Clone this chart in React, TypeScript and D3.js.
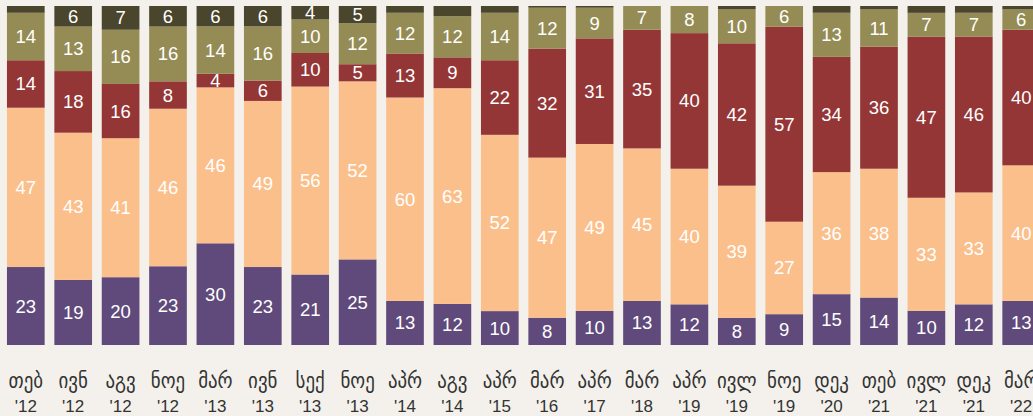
import React, { useEffect, useRef } from 'react';
import * as d3 from 'd3';

// survey waves
const months = ['თებ', 'ივნ', 'აგვ', 'ნოე', 'მარ', 'ივნ', 'სექ', 'ნოე', 'აპრ', 'აგვ', 'აპრ', 'მარ', 'აპრ', 'მარ', 'აპრ', 'ივლ', 'ნოე', 'დეკ', 'თებ', 'ივლ', 'დეკ', 'მარ'];
const years = ["'12", "'12", "'12", "'12", "'13", "'13", "'13", "'13", "'14", "'14", "'15", "'16", "'17", "'18", "'19", "'19", "'19", "'20", "'21", "'21", "'21", "'22"];

// series values, bottom to top
const purple = [23, 19, 20, 23, 30, 23, 21, 25, 13, 12, 10, 8, 10, 13, 12, 8, 9, 15, 14, 10, 12, 13];
const peach = [47, 43, 41, 46, 46, 49, 56, 52, 60, 63, 52, 47, 49, 45, 40, 39, 27, 36, 38, 33, 33, 40];
const red = [14, 18, 16, 8, 4, 6, 10, 5, 13, 9, 22, 32, 31, 35, 40, 42, 57, 34, 36, 47, 46, 40];
const olive = [14, 13, 16, 16, 14, 16, 10, 12, 12, 12, 14, 12, 9, 7, 8, 10, 6, 13, 11, 7, 7, 6];
const dark = [2, 6, 7, 6, 6, 6, 4, 5, 2, 3, 2, 0.5, 0.5, 0, 0, 1, 0, 2, 1, 2, 2, 1];

const keys = ['purple', 'peach', 'red', 'olive', 'dark'];
const colors = ['#5f4a7b', '#fbbf8c', '#943636', '#958c55', '#4a452d'];

export default function App() {
    const ref = useRef(null);

    useEffect(() => {
        const width = 1033;
        const height = 416;
        const top = 6;
        const bottom = 345;

        const rows = months.map((m, i) => ({
            id: i,
            purple: purple[i],
            peach: peach[i],
            red: red[i],
            olive: olive[i],
            dark: dark[i],
        }));

        const svg = d3.select(ref.current);
        svg.selectAll('*').remove();
        svg.attr('width', width).attr('height', height);

        svg.append('rect')
            .attr('width', width)
            .attr('height', height)
            .attr('fill', '#f4f1ec');

        const x = d3.scaleBand()
            .domain(rows.map(d => String(d.id)))
            .range([2.1, 2.1 + 22 * 47.4])
            .paddingInner(0.205)
            .paddingOuter(0.1025);

        const y = d3.scaleLinear().domain([0, 1]).range([bottom, top]);

        const series = d3.stack()
            .keys(keys)
            .offset(d3.stackOffsetExpand)(rows);

        const layer = svg.selectAll('g.layer')
            .data(series)
            .enter()
            .append('g')
            .attr('class', 'layer')
            .attr('fill', (d, i) => colors[i]);

        layer.selectAll('rect')
            .data(d => d)
            .enter()
            .append('rect')
            .attr('x', d => x(String(d.data.id)))
            .attr('y', d => y(d[1]))
            .attr('width', x.bandwidth())
            .attr('height', d => Math.max(0, y(d[0]) - y(d[1])));

        // value labels inside segments
        series.forEach(s => {
            svg.append('g')
                .selectAll('text')
                .data(s.filter(d => d.data[s.key] >= 4))
                .enter()
                .append('text')
                .attr('x', d => x(String(d.data.id)) + x.bandwidth() / 2)
                .attr('y', d => (y(d[0]) + y(d[1])) / 2)
                .attr('text-anchor', 'middle')
                .attr('dominant-baseline', 'central')
                .style('font-family', 'Liberation Sans, Arial, sans-serif')
                .style('font-size', '18.5px')
                .style('fill', '#ffffff')
                .text(d => d.data[s.key]);
        });

        // category labels
        const lab = svg.append('g')
            .selectAll('text')
            .data(rows)
            .enter()
            .append('text')
            .attr('text-anchor', 'middle')
            .style('fill', '#333333');

        lab.append('tspan')
            .attr('x', d => x(String(d.id)) + x.bandwidth() / 2)
            .attr('y', 388)
            .style('font-family', 'DejaVu Sans Condensed, DejaVu Sans, sans-serif')
            .style('font-size', '21px')
            .text(d => months[d.id]);

        lab.append('tspan')
            .attr('x', d => x(String(d.id)) + x.bandwidth() / 2)
            .attr('y', 412)
            .style('font-family', 'Liberation Sans, Arial, sans-serif')
            .style('font-size', '17px')
            .text(d => years[d.id]);
    }, []);

    return (
        <div style={{ position: 'absolute', left: 0, top: 0 }}>
            <svg ref={ref} style={{ display: 'block' }}></svg>
        </div>
    );
}
